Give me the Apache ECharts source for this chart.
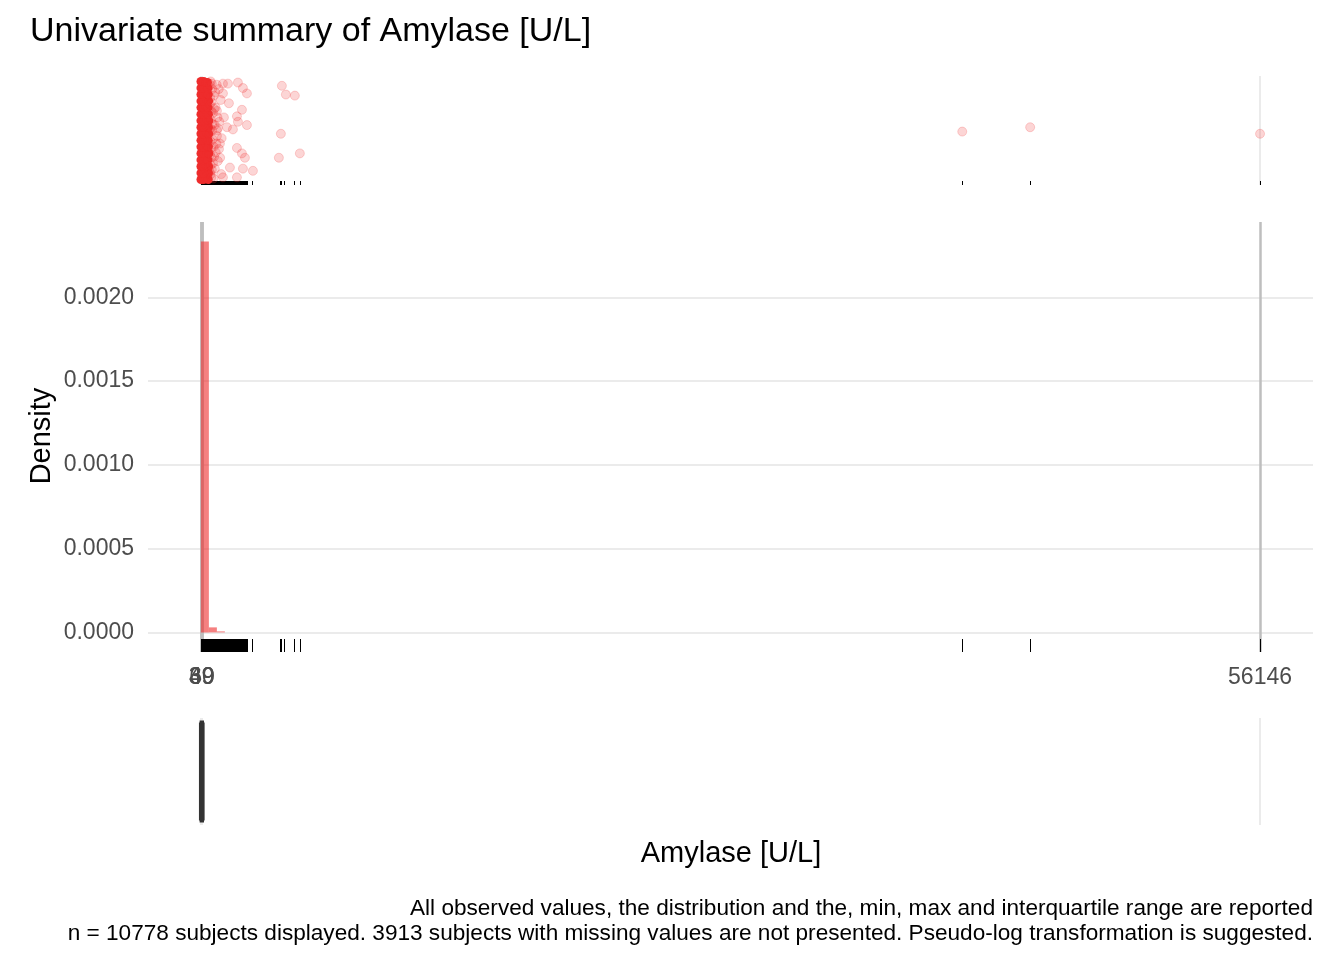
<!DOCTYPE html>
<html>
<head>
<meta charset="utf-8">
<script src="https://cdn.jsdelivr.net/npm/echarts@6/dist/echarts.min.js"></script>
<style>
  html, body { margin: 0; background: #fff; }
  #chart { width: 1344px; height: 960px; }
</style>
</head>
<body>
<div id="chart"></div>
<script>
// summary stats: min, Q1, median, Q3, max (shown as x tick labels)
const xTicks = [4, 39, 49, 60, 56146];
const yTicks = [0, 0.0005, 0.001, 0.0015, 0.002];

// histogram bins (density)
const binEdges = [0, 424, 848, 1272];
const binDensity = [0.002333, 0.00003, 0.000006];

// boxplot: lower whisker, Q1, median, Q3, upper whisker
const boxStats = [4, 39, 49, 60, 92];

// observed values for the rug
const rugValues = [4, 20, 35, 50, 70, 90, 110, 130, 150, 175, 200, 225, 250, 280, 310, 340, 370,
  400, 430, 460, 500, 540, 580, 620, 660, 700, 740, 780, 820, 860, 900, 940, 980, 1020, 1060,
  1100, 1140, 1180, 1220, 1260, 1300, 1340, 1380, 1420, 1460, 1500, 1540, 1580, 1620, 1660, 1700,
  1740, 1780, 1820, 1860, 1900, 1940, 1980, 2020, 2060, 2100, 2140, 2180, 2220, 2260, 2300, 2340,
  2380, 2420, 2700, 4170, 4230, 4400, 4930, 5250, 40360, 43960, 56146];

// jittered points: [value, jitter]
const blobCore = [
  [4,0.05],[140,0.05],[280,0.06],[390,0.05], [4,0.11],[150,0.11],[290,0.12],[400,0.11],
  [4,0.17],[140,0.17],[280,0.18],[410,0.17], [4,0.23],[150,0.23],[270,0.24],[380,0.23],
  [4,0.29],[160,0.29],[300,0.30],[420,0.29], [4,0.35],[140,0.35],[290,0.36],[400,0.35],
  [4,0.41],[140,0.41],[280,0.42],[390,0.41], [4,0.47],[150,0.47],[300,0.48],[410,0.47],
  [4,0.53],[150,0.53],[290,0.54],[400,0.53], [4,0.59],[160,0.59],[310,0.60],[420,0.59],
  [4,0.65],[140,0.65],[290,0.66],[400,0.65], [4,0.71],[140,0.71],[270,0.72],[380,0.71],
  [4,0.77],[150,0.77],[300,0.78],[410,0.77], [4,0.83],[150,0.83],[290,0.84],[390,0.83],
  [4,0.89],[140,0.89],[280,0.90],[380,0.89], [4,0.95],[150,0.95],[260,0.94],[350,0.94]
];
const blobHalo = [
  [520,0.95],[600,0.88],[690,0.82],[560,0.76],[780,0.71],[640,0.66],[530,0.60],[730,0.55],
  [600,0.50],[850,0.45],[510,0.40],[680,0.35],[790,0.30],[560,0.25],[640,0.20],[740,0.15],
  [520,0.10],[660,0.06],[480,0.92],[880,0.62],[470,0.48],[820,0.38],[490,0.28],[900,0.22],
  [470,0.12],[980,0.58],[960,0.33],[580,0.93],[550,0.07],[700,0.70],[620,0.42],[760,0.85],
  [500,0.80],[540,0.68],[500,0.52],[560,0.34],[520,0.18],[480,0.74],[1050,0.78],[1100,0.43],
  [950,0.88],[1020,0.25],[1080,0.10],[900,0.52],[840,0.92],[620,0.56],[580,0.14],[700,0.26]
];
const outliers = [
  [1170,0.93],[1434,0.93],[1964,0.94],[2229,0.89],[2441,0.84],[1170,0.84],[1487,0.75],
  [2176,0.69],[851,0.68],[1222,0.62],[1911,0.63],[1964,0.58],[2441,0.55],[1381,0.53],
  [1699,0.51],[851,0.50],[1010,0.38],[1911,0.34],[2176,0.29],[2335,0.25],[1540,0.16],
  [2229,0.15],[2759,0.13],[1170,0.07],[1911,0.07],[4294,0.91],[4506,0.83],[4982,0.82],
  [4241,0.47],[5247,0.29],[4135,0.25],[40360,0.49],[43960,0.53],[56146,0.47]
];

const X_MIN = -2803, X_MAX = 58953;
const Y_MIN = -0.000117, Y_MAX = 0.00245;
const FONT = '"Liberation Sans", Arial, sans-serif';
const RED = '#EE2C2C';

function rugSeries(xi, yi, yBase, len) {
  return {
    type: 'custom', xAxisIndex: xi, yAxisIndex: yi, silent: true,
    data: rugValues.map(v => [v]),
    encode: { x: 0 },
    renderItem: function (params, api) {
      const p = api.coord([api.value(0), yBase]);
      const x = Math.round(p[0]) + 0.5;
      return { type: 'line', shape: { x1: x, y1: p[1], x2: x, y2: p[1] - len },
        style: { stroke: '#000', lineWidth: 1 } };
    }
  };
}

function xAxisFor(grid, lineColor, lineWidth, labels) {
  return {
    gridIndex: grid, type: 'value', min: X_MIN, max: X_MAX,
    axisLine: { show: false },
    axisTick: { show: false, customValues: xTicks },
    axisLabel: labels ? { customValues: xTicks, formatter: v => String(v), fontSize: 23,
                          color: '#4D4D4D', margin: 14, fontFamily: FONT }
                      : { show: false },
    splitLine: { show: true, lineStyle: { color: lineColor, width: lineWidth } }
  };
}

const chart = echarts.init(document.getElementById('chart'));
chart.setOption({
  animation: false,
  backgroundColor: '#fff',
  grid: [
    { left: 148, right: 31, top: 76, height: 109 },
    { left: 148, right: 31, top: 222, height: 430 },
    { left: 148, right: 31, top: 718, height: 107 }
  ],
  xAxis: [
    xAxisFor(0, '#EBEBEB', 2, false),
    xAxisFor(1, '#BEBEBE', 2.5, true),
    xAxisFor(2, '#EBEBEB', 2, false)
  ],
  yAxis: [
    { gridIndex: 0, type: 'value', min: 0, max: 1, show: false },
    {
      gridIndex: 1, type: 'value', min: Y_MIN, max: Y_MAX,
      axisLine: { show: false },
      axisTick: { show: false, customValues: yTicks },
      axisLabel: { customValues: yTicks, formatter: v => v.toFixed(4), fontSize: 23,
        color: '#4D4D4D', margin: 14, fontFamily: FONT },
      splitLine: { show: true, lineStyle: { color: '#EBEBEB', width: 2 } }
    },
    { gridIndex: 2, type: 'category', data: ['Amylase'], show: false }
  ],
  series: [
    {
      type: 'scatter', xAxisIndex: 0, yAxisIndex: 0, symbolSize: 9, z: 2,
      data: blobCore,
      itemStyle: { color: RED, opacity: 1 }
    },
    {
      type: 'scatter', xAxisIndex: 0, yAxisIndex: 0, symbolSize: 9, z: 3,
      data: blobHalo.concat(outliers),
      itemStyle: { color: RED, borderColor: RED, borderWidth: 1, opacity: 0.2 }
    },
    rugSeries(0, 0, 0, 4),
    {
      type: 'custom', xAxisIndex: 1, yAxisIndex: 1, z: 3,
      data: binDensity.map((d, i) => [binEdges[i], binEdges[i + 1], d]),
      encode: { x: [0, 1], y: 2 },
      renderItem: function (params, api) {
        const p0 = api.coord([api.value(0), 0]);
        const p1 = api.coord([api.value(1), api.value(2)]);
        return { type: 'rect',
          shape: { x: p0[0], y: p1[1], width: p1[0] - p0[0], height: p0[1] - p1[1] },
          style: { fill: RED, opacity: 0.6 } };
      }
    },
    rugSeries(1, 1, Y_MIN, 13),
    {
      type: 'boxplot', xAxisIndex: 2, yAxisIndex: 2,
      data: [boxStats], boxWidth: [98, 98],
      itemStyle: { color: '#333333', borderColor: '#333333', borderWidth: 4 }
    }
  ],
  graphic: [
    { type: 'text', x: 30, y: 32, style: { text: 'Univariate summary of Amylase [U/L]',
      font: '34px ' + FONT, fill: '#000', textAlign: 'left', textVerticalAlign: 'middle' } },
    { type: 'text', x: 42, y: 436, rotation: Math.PI / 2, style: { text: 'Density',
      font: '29px ' + FONT, fill: '#000', textAlign: 'center', textVerticalAlign: 'middle' } },
    { type: 'text', x: 731, y: 854, style: { text: 'Amylase [U/L]',
      font: '29px ' + FONT, fill: '#000', textAlign: 'center', textVerticalAlign: 'middle' } },
    { type: 'text', x: 1313, y: 909, style: {
      text: 'All observed values, the distribution and the, min, max and interquartile range are reported',
      font: '22.6px ' + FONT, fill: '#000', textAlign: 'right', textVerticalAlign: 'middle' } },
    { type: 'text', x: 1313, y: 934, style: {
      text: 'n = 10778 subjects displayed. 3913 subjects with missing values are not presented. Pseudo-log transformation is suggested.',
      font: '22.6px ' + FONT, fill: '#000', textAlign: 'right', textVerticalAlign: 'middle' } }
  ]
});
</script>
</body>
</html>
